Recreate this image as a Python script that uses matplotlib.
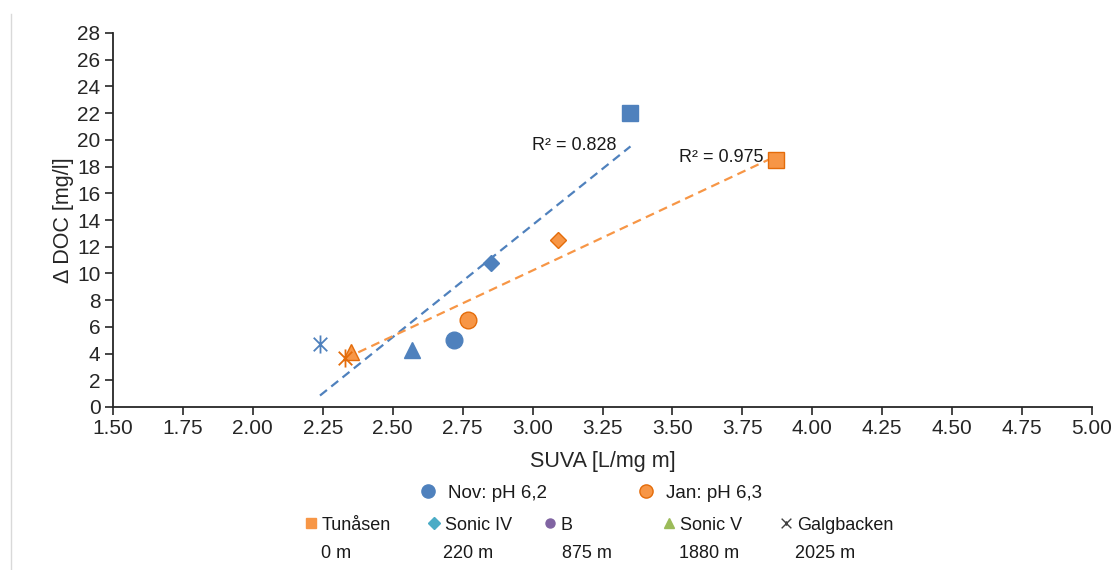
import numpy as np
import matplotlib
matplotlib.use("Agg")
import matplotlib.pyplot as plt
from matplotlib.path import Path
from matplotlib.lines import Line2D

plt.rcParams['font.family'] = ['Liberation Sans', 'DejaVu Sans']

# ---- data ----
sites = ["Tunåsen", "Sonic IV", "B", "Sonic V", "Galgbacken"]
distances = ["0 m", "220 m", "875 m", "1880 m", "2025 m"]
nov_suva = [3.35, 2.85, 2.72, 2.57, 2.24]
nov_doc = [22.0, 10.8, 5.0, 4.3, 4.7]
jan_suva = [3.87, 3.09, 2.77, 2.35, 2.33]
jan_doc = [18.5, 12.5, 6.5, 4.1, 3.7]
series_labels = ["Nov: pH 6,2", "Jan: pH 6,3"]
r2_labels = ["R² = 0.828", "R² = 0.975"]
x_ticks = [1.50, 1.75, 2.00, 2.25, 2.50, 2.75, 3.00, 3.25, 3.50, 3.75, 4.00, 4.25, 4.50, 4.75, 5.00]
y_ticks = list(range(0, 29, 2))

BLUE = '#4f81bd'
ORANGE = '#f79646'
ORANGE_E = '#e46c0a'
site_colors = ['#f79646', '#4bacc6', '#8064a2', '#9bbb59', '#404040']

star = Path([(0, -1), (0, 1), (-0.75, -0.75), (0.75, 0.75), (-0.75, 0.75), (0.75, -0.75)],
            [Path.MOVETO, Path.LINETO, Path.MOVETO, Path.LINETO, Path.MOVETO, Path.LINETO])
xmark = Path([(-0.75, -0.75), (0.75, 0.75), (-0.75, 0.75), (0.75, -0.75), (0, -0.35), (0, 0.35)],
             [Path.MOVETO, Path.LINETO, Path.MOVETO, Path.LINETO, Path.MOVETO, Path.LINETO])
markers = ['s', 'D', 'o', '^', star]
sizes = [12, 8.5, 12, 12, 13]

W, H = 1115, 570
fig = plt.figure(figsize=(W / 100, H / 100), dpi=100)
ax = fig.add_axes([113 / W, 1 - 407 / H, (1092 - 113) / W, (407 - 33) / H])

for xs, ys, fc, ec in [(nov_suva, nov_doc, BLUE, BLUE), (jan_suva, jan_doc, ORANGE, ORANGE_E)]:
    for i in range(len(xs)):
        if markers[i] is star:
            ax.plot(xs[i], ys[i], marker=star, ms=sizes[i], mec=ec, mfc='none', mew=1.3,
                    ls='none', zorder=3)
        else:
            ax.plot(xs[i], ys[i], marker=markers[i], ms=sizes[i], mfc=fc, mec=ec, mew=1.0,
                    ls='none', zorder=3)

# trend lines
for xs, ys, c in [(nov_suva, nov_doc, BLUE), (jan_suva, jan_doc, ORANGE)]:
    k, m = np.polyfit(xs, ys, 1)
    xx = np.array([min(xs), max(xs)])
    ax.plot(xx, k * xx + m, color=c, lw=1.6, ls=(0, (4, 2.5)), zorder=2)

ax.text(3.30, 19.6, r2_labels[0], ha='right', va='center', fontsize=13, color='#1a1a1a')
ax.text(3.825, 18.7, r2_labels[1], ha='right', va='center', fontsize=13, color='#1a1a1a')

ax.set_xlim(1.5, 5.0)
ax.set_ylim(0, 28)
ax.set_xticks(x_ticks)
ax.set_xticklabels([f"{v:.2f}" for v in x_ticks])
ax.set_yticks(y_ticks)
for s in ['top', 'right']:
    ax.spines[s].set_visible(False)
for s in ['left', 'bottom']:
    ax.spines[s].set_color('#262626')
    ax.spines[s].set_linewidth(1.3)
ax.tick_params(axis='both', labelsize=15, colors='#262626', length=6, width=1.2, direction='out', pad=3)
ax.set_xlabel("SUVA [L/mg m]", fontsize=15.5, color='#262626', labelpad=9)
ax.set_ylabel("Δ DOC [mg/l]", fontsize=15.5, color='#262626', labelpad=2)


def item(handle, label, cx, y, fs, hl, pad):
    em = fs * 100 / 72
    x = cx - hl * em / 2
    lg = fig.legend([handle], [label], loc='center left', bbox_to_anchor=(x / W, 1 - y / H),
                    frameon=False, fontsize=fs, handlelength=hl, handletextpad=pad,
                    borderpad=0, borderaxespad=0)
    for t in lg.get_texts():
        t.set_color('#1a1a1a')
    return lg


item(Line2D([], [], marker='o', ms=9.5, color=BLUE, ls='none'), series_labels[0], 428, 493, 13.5, 1.0, 0.57)
item(Line2D([], [], marker='o', ms=9.5, mfc=ORANGE, mec=ORANGE_E, ls='none'), series_labels[1], 646, 493, 13.5, 1.0, 0.57)

row2_x = [311, 434, 550, 669, 786]
dist_x = [321, 443, 562, 679, 795]
leg_sizes = [7, 6.5, 6.5, 7.5, 7]
for i in range(5):
    if markers[i] is star:
        h = Line2D([], [], marker=xmark, ms=leg_sizes[i], mec=site_colors[i], mfc='none', mew=1.0, ls='none')
    else:
        h = Line2D([], [], marker=markers[i], ms=leg_sizes[i], color=site_colors[i], ls='none')
    item(h, sites[i], row2_x[i], 525, 13, 0.6, 0.3)
    fig.text(dist_x[i] / W, 1 - 554 / H, distances[i], ha='left', va='center',
             fontsize=13, color='#1a1a1a')

# faint chart-area border line on the left
fig.add_artist(Line2D([11 / W, 11 / W], [0, 1 - 14 / H], color='#d9d9d9', lw=1))

fig.savefig('out.png', dpi=100)
